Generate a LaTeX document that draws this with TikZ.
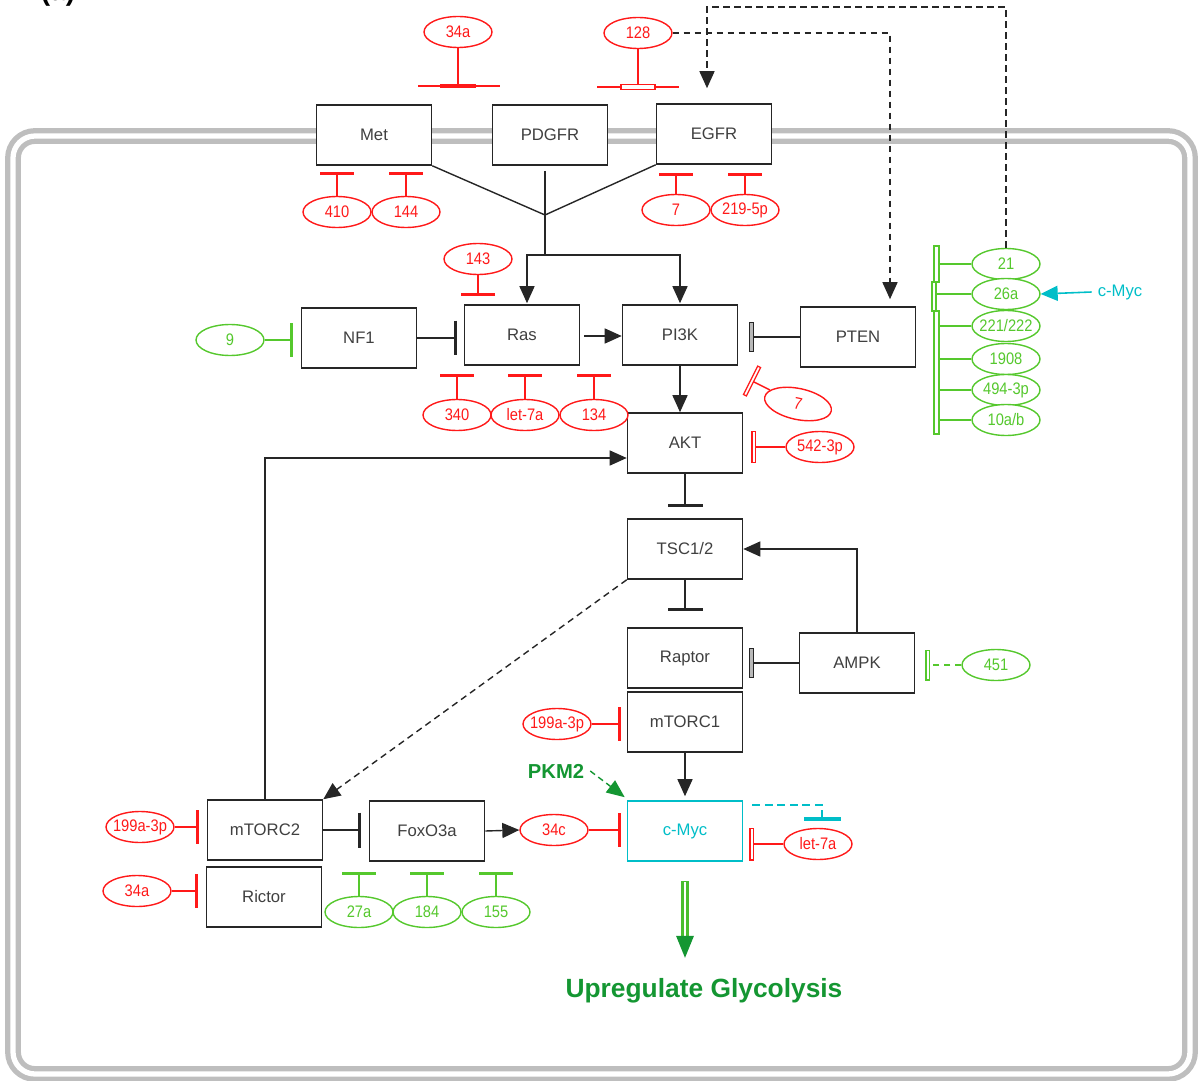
\documentclass[tikz,border=0pt]{standalone}
\usepackage{fontspec}
\setmainfont{Liberation Sans}
\newfontfamily\narrowfont[FakeStretch=0.88]{Liberation Sans}
\usetikzlibrary{arrows.meta,shapes.geometric,calc}
\definecolor{myred}{RGB}{255,25,25}
\definecolor{mygreen}{RGB}{85,200,45}
\definecolor{dkgreen}{RGB}{20,150,50}
\definecolor{mycyan}{RGB}{0,190,200}
\definecolor{memgray}{RGB}{190,190,190}
\newcommand{\mt}[1]{\makebox[0pt]{#1}}
\begin{document}
\begin{tikzpicture}[x=0.02cm,y=-0.02cm,
  box/.style={draw=black!85, line width=0.9pt, fill=white, minimum width=2.3cm, minimum height=1.2cm, inner sep=0pt, text=black!75, font=\fontsize{9.5}{11}\selectfont},
  mir/.style={ellipse, line width=0.8pt, minimum width=1.36cm, minimum height=0.62cm, inner sep=0pt, fill=white, font=\narrowfont\fontsize{9.5}{11}\selectfont},
  rmir/.style={mir, draw=myred, text=myred},
  gmir/.style={mir, draw=mygreen, text=mygreen},
  conn/.style={line width=0.8pt, draw=black!85},
  arr/.style={conn, -{Triangle[length=0.34cm,width=0.3cm]}},
  dasharr/.style={arr, dash pattern=on 0.13cm off 0.09cm},
  inh/.style={conn, -{Bar[width=0.7cm,line width=1.8pt]}},
  rinh/.style={line width=0.8pt, draw=myred, -{Bar[width=0.68cm,line width=1.8pt]}},
  ginh/.style={line width=0.8pt, draw=mygreen, -{Bar[width=0.68cm,line width=1.8pt]}},
  rhol/.style={line width=0.8pt, draw=myred, -{Rectangle[open,length=0.09cm,width=0.66cm,line width=0.7pt]}},
  ghol/.style={line width=0.8pt, draw=mygreen, -{Rectangle[open,length=0.09cm,width=0.62cm,line width=0.7pt]}},
  khol/.style={conn, -{Rectangle[length=0.09cm,width=0.6cm,fill=gray!55,line width=0.6pt]}}
]
\useasboundingbox (0,0) rectangle (1200,1081);
% membrane
\draw[line width=9pt, memgray, rounded corners=0.44cm] (13,136) rectangle (1190,1074);
\draw[line width=3pt, white, rounded corners=0.44cm] (13,136) rectangle (1190,1074);
\node[anchor=base, font=\bfseries\fontsize{16}{18}\selectfont] (lbl) at (58,1) {(a)};

% boxes
\node[box] (Met) at (374,135) {Met};
\node[box] (PDGFR) at (550,135) {PDGFR};
\node[box] (EGFR) at (714,134) {EGFR};
\node[box] (NF1) at (359,338) {NF1};
\node[box] (Ras) at (522,335) {Ras};
\node[box] (PI3K) at (680,335) {PI3K};
\node[box] (PTEN) at (858,337) {PTEN};
\node[box] (AKT) at (685,443) {AKT};
\node[box] (TSC) at (685,549) {TSC1/2};
\node[box] (Raptor) at (685,658) {Raptor};
\node[box] (AMPK) at (857,663) {AMPK};
\node[box] (mTORC1) at (685,722) {mTORC1};
\node[box] (mTORC2) at (265,830) {mTORC2};
\node[box] (FoxO) at (427,831) {FoxO3a};
\node[box] (Rictor) at (264,897) {Rictor};
\node[box, draw=mycyan, text=mycyan] (cMyc) at (685,831) {c-Myc};

% miRNAs
\node[rmir] (m34a) at (458,32) {\mt{34a}};
\node[rmir] (m128) at (638,33) {\mt{128}};
\node[rmir] (m410) at (337,212) {\mt{410}};
\node[rmir] (m144) at (406,212) {\mt{144}};
\node[rmir] (m7e) at (676,210) {\mt{7}};
\node[rmir] (m219) at (745,210) {\mt{219-5p}};
\node[rmir] (m143) at (478,259) {\mt{143}};
\node[rmir] (m340) at (457,415) {\mt{340}};
\node[rmir] (mlet7r) at (525,415) {\mt{let-7a}};
\node[rmir] (m134) at (594,415) {\mt{134}};
\node[gmir] (m9) at (230,340) {\mt{9}};
\node[gmir] (m21) at (1006,264) {\mt{21}};
\node[gmir] (m26a) at (1006,294) {\mt{26a}};
\node[gmir] (m221) at (1006,326) {\mt{221/222}};
\node[gmir] (m1908) at (1006,359) {\mt{1908}};
\node[gmir] (m494) at (1006,390) {\mt{494-3p}};
\node[gmir] (m10a) at (1006,420) {\mt{10a/b}};
\node[rmir, rotate=-12] (m7p) at (798,404) {\mt{7}};
\node[rmir] (m542) at (820,447) {\mt{542-3p}};
\node[gmir] (m451) at (996,665) {\mt{451}};
\node[rmir] (m199a) at (557,724) {\mt{199a-3p}};
\node[rmir] (m199b) at (140,827) {\mt{199a-3p}};
\node[rmir] (m34r) at (137,891) {\mt{34a}};
\node[rmir] (m34c) at (554,830) {\mt{34c}};
\node[rmir] (mlet7c) at (818,844) {\mt{let-7a}};
\node[gmir] (m27a) at (359,912) {\mt{27a}};
\node[gmir] (m184) at (427,912) {\mt{184}};
\node[gmir] (m155) at (496,912) {\mt{155}};

% free labels
\node[text=mycyan, font=\fontsize{9.5}{11}\selectfont] (cmyclbl) at (1120,292) {c-Myc};
\node[text=dkgreen, font=\bfseries\fontsize{11.5}{13}\selectfont] (PKM2) at (556,771) {PKM2};
\node[text=dkgreen, font=\bfseries\fontsize{15}{18}\selectfont] (glyco) at (704,991) {Upregulate Glycolysis};

% coordinates
\coordinate (J) at (545,215);
\coordinate (J2) at (545,255);
\coordinate (mb34) at (458,86);
\coordinate (mb128) at (638,87);
\coordinate (p3bar) at (750,380);
\coordinate (c21a) at (1006,7);
\coordinate (c21b) at (707,7);
\coordinate (brk) at (939,0);

% receptor convergence
\draw[conn] (Met.south east) -- (J);
\draw[conn] ($(PDGFR.south)+(-5,5)$) -- (J);
\draw[conn] (EGFR.south west) -- (J);
\draw[conn] (J) -- (J2);
\draw[arr] (J2) -| ($(Ras.north)+(5,-1)$);
\draw[arr] (J2) -| ($(PI3K.north)+(0,-1)$);

% top membrane inhibitions
\draw[myred, line width=0.8pt] (m34a.south) -- (mb34);
\draw[myred, line width=0.7pt] ($(mb34)+(-40,0)$) -- ($(mb34)+(42,0)$);
\draw[myred, line width=2.6pt] ($(mb34)+(-18,0)$) -- ($(mb34)+(18,0)$);
\draw[myred, line width=0.8pt] (m128.south) -- (mb128);
\draw[myred, line width=0.7pt] ($(mb128)+(-41,0)$) -- ($(mb128)+(41,0)$);
\draw[myred, line width=0.7pt, fill=white] ($(mb128)+(-17,-2.5)$) rectangle ($(mb128)+(17,2.5)$);

% dashed long connectors
\draw[dasharr] (m128.east) -| ($(PTEN.north)+(32,-7)$);
\draw[dasharr] (m21.north) -- (c21a) -- (c21b) -- ($(EGFR.north)+(-7,-15)$);

% receptor inhibitors
\draw[rinh, shorten >=0.12cm] (m410.north) -- (m410.north |- Met.south);
\draw[rinh, shorten >=0.12cm] (m144.north) -- (m144.north |- Met.south);
\draw[rinh, shorten >=0.16cm] (m7e.north) -- (m7e.north |- EGFR.south);
\draw[rinh, shorten >=0.16cm] (m219.north) -- (m219.north |- EGFR.south);

% Ras
\draw[rinh, shorten >=0.16cm] (m143.south) -- (m143.south |- Ras.north);
\draw[rinh, shorten >=0.16cm] (m340.north) -- (m340.north |- Ras.south);
\draw[rinh, shorten >=0.16cm] (mlet7r.north) -- (mlet7r.north |- Ras.south);
\draw[rinh, shorten >=0.16cm] (m134.north) -- (m134.north |- Ras.south);
\draw[inh, shorten >=0.14cm] (NF1.east) -- (NF1.east -| Ras.west);
\draw[ginh, shorten >=0.16cm] (m9.east) -- (m9.east -| NF1.west);
\draw[arr] ($(Ras.east)+(4,1)$) -- ($(PI3K.west)+(0,1)$);

% PI3K / PTEN / AKT
\draw[khol, shorten >=0.22cm] (PTEN.west) -- (PTEN.west -| PI3K.east);
\draw[arr] (PI3K.south) -- (PI3K.south |- AKT.north);
\draw[rhol] (m7p) -- (p3bar);
\draw[rhol, shorten >=0.16cm] (m542.west) -- (m542.west -| AKT.east);

% green bracket
\draw[mygreen, line width=0.7pt] (934,246) rectangle (939,282);
\draw[mygreen, line width=0.7pt] (932,282) rectangle (936,311);
\draw[mygreen, line width=0.7pt] (934,311) rectangle (939,434);
\foreach \m in {m21,m221,m1908,m494,m10a}{
  \draw[mygreen, line width=0.8pt] (\m.west) -- (\m.west -| brk);
}
\draw[mygreen, line width=0.8pt] (m26a.west) -- ($(m26a.west -| brk)+(-3,0)$);
\draw[mycyan, line width=0.9pt, -{Triangle[length=0.34cm,width=0.3cm]}] (cmyclbl.west) -- (m26a.east);

% AKT / TSC / mTOR
\draw[inh, shorten >=0.22cm] (AKT.south) -- (AKT.south |- TSC.north);
\draw[inh, shorten >=0.32cm] (TSC.south) -- (TSC.south |- Raptor.north);
\draw[arr] (AMPK.north) |- (TSC.east);
\draw[khol, shorten >=0.12cm] (AMPK.west) -- (AMPK.west -| Raptor.east);
\draw[ghol, dash pattern=on 0.13cm off 0.09cm, shorten >=0.2cm] (m451.west) -- (m451.west -| AMPK.east);
\draw[rinh, shorten >=0.12cm] (m199a.east) -- (m199a.east -| mTORC1.west);
\draw[arr, shorten >=0.08cm] (mTORC1.south) -- (cMyc.north);
\draw[dkgreen, line width=0.8pt, dash pattern=on 0.12cm off 0.08cm, -{Triangle[length=0.36cm,width=0.3cm]}] (PKM2.east) -- ($(cMyc.north west)+(-2,-3)$);

% c-Myc
\draw[mycyan, line width=1pt, dash pattern=on 0.16cm off 0.09cm, -{Bar[width=0.74cm,line width=2pt]}] ($(cMyc.north east)+(9,5)$) -| ($(mlet7c.north)+(4,-7)$);
\draw[rhol, shorten >=0.12cm] (mlet7c.west) -- (mlet7c.west -| cMyc.east);
\draw[rinh, shorten >=0.12cm] (m34c.east) -- (m34c.east -| cMyc.west);
\draw[arr] (FoxO.east) -- (m34c.west);

% mTORC2 / FoxO3a / Rictor
\draw[inh, shorten >=0.16cm] (mTORC2.east) -- (mTORC2.east -| FoxO.west);
\draw[rinh, shorten >=0.16cm] (m199b.east) -- (m199b.east -| mTORC2.west);
\draw[rinh, shorten >=0.16cm] (m34r.east) -- (m34r.east -| Rictor.west);
\draw[ginh, shorten >=0.2cm] (m27a.north) -- (m27a.north |- FoxO.south);
\draw[ginh, shorten >=0.2cm] (m184.north) -- (m184.north |- FoxO.south);
\draw[ginh, shorten >=0.2cm] (m155.north) -- (m155.north |- FoxO.south);
\draw[arr] (mTORC2.north) |- ($(AKT.west)+(0,15)$);
\draw[dasharr] (TSC.south west) -- (mTORC2.north east);

% glycolysis arrow
\coordinate (g1) at ($(cMyc.south)+(0,19)$);
\coordinate (g2) at ($(cMyc.south)+(0,74)$);
\coordinate (g3) at ($(cMyc.south)+(0,96)$);
\draw[line width=4pt, mygreen!80!dkgreen] (g1) -- (g2);
\draw[line width=1.6pt, white] ($(g1)+(0,1.5)$) -- (g2);
\fill[dkgreen] ($(g2)+(-9,0)$) -- ($(g2)+(9,0)$) -- (g3) -- cycle;
\end{tikzpicture}
\end{document}
